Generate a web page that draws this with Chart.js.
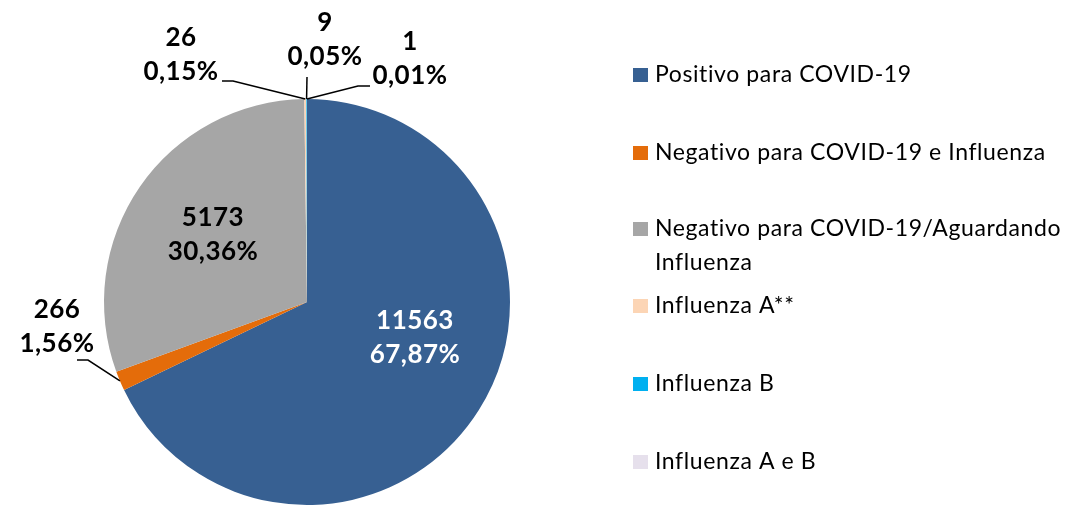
<!DOCTYPE html>
<html>
<head>
<meta charset="utf-8">
<script src="https://cdn.jsdelivr.net/npm/chart.js@4.4.0/dist/chart.umd.min.js"></script>
<style>
  body { margin: 0; background: #fff; }
  #wrap { width: 1085px; height: 527px; }
</style>
</head>
<body>
<div id="wrap"><canvas id="pieChart" width="1085" height="527"></canvas></div>
<script>
// Chart data
const categories = [
    'Positivo para COVID-19',
    'Negativo para COVID-19 e Influenza',
    ['Negativo para COVID-19/Aguardando', 'Influenza'],
    'Influenza A**',
    'Influenza B',
    'Influenza A e B'
];
const counts = [11563, 266, 5173, 26, 9, 1];
const percentLabels = ['67,87%', '1,56%', '30,36%', '0,15%', '0,05%', '0,01%'];

const sliceColors = ['#376092', '#E46C0A', '#A6A6A6', '#FCD5B5', '#00B0F0', '#E6E0EC'];
const FONT = 'Lato, "Open Sans", sans-serif';

// Label placement relative to pie centre (px): block centre, leader elbow, leader end
const labelPlacement = [
    { dx: 108, dy: 36, color: '#fff' },
    { dx: -250, dy: 25, elbow: [-219, 58], end: [-230, 58] },
    { dx: -94, dy: -67 },
    { dx: -126, dy: -247, elbow: [-74, -221], end: [-85, -221] },
    { dx: 18, dy: -262, elbow: [0, -225], end: [0, -225] },
    { dx: 103, dy: -243, elbow: [51, -216], end: [63, -216] }
];
// Legend row centres (y) for the first line of each entry
const legendRows = [75, 153, 229, 306, 384, 462];

// Plugin: value + percent labels with leader lines
const sliceLabels = {
    id: 'sliceLabels',
    afterDatasetsDraw(chart) {
        const ctx = chart.ctx;
        const arcs = chart.getDatasetMeta(0).data;
        ctx.save();
        arcs.forEach((arc, i) => {
            const p = labelPlacement[i];
            const cx = arc.x, cy = arc.y;
            if (p.elbow) {
                // leader line starts on the rim at slice mid-angle
                const mid = (arc.startAngle + arc.endAngle) / 2;
                const sx = cx + Math.cos(mid) * arc.outerRadius;
                const sy = cy + Math.sin(mid) * arc.outerRadius;
                ctx.beginPath();
                ctx.moveTo(sx, sy);
                ctx.lineTo(cx + p.elbow[0], cy + p.elbow[1]);
                ctx.lineTo(cx + p.end[0], cy + p.end[1]);
                ctx.strokeStyle = '#000';
                ctx.lineWidth = 1.5;
                ctx.stroke();
            }
            ctx.fillStyle = p.color || '#000';
            ctx.font = 'bold 26px ' + FONT;
            ctx.letterSpacing = '0.5px';
            ctx.textAlign = 'center';
            ctx.textBaseline = 'middle';
            ctx.fillText(String(counts[i]), cx + p.dx, cy + p.dy - 17);
            ctx.fillText(percentLabels[i], cx + p.dx, cy + p.dy + 17);
        });
        ctx.restore();
    }
};

// Plugin: legend drawn on the right
const sideLegend = {
    id: 'sideLegend',
    afterDraw(chart) {
        const ctx = chart.ctx;
        const colors = chart.data.datasets[0].backgroundColor;
        ctx.save();
        ctx.font = '23px ' + FONT;
        ctx.letterSpacing = '0.6px';
        ctx.textAlign = 'left';
        ctx.textBaseline = 'middle';
        chart.data.labels.forEach((label, i) => {
            const y = legendRows[i];
            ctx.fillStyle = colors[i];
            ctx.fillRect(633, y - 7, 15, 14);
            ctx.fillStyle = '#000';
            const lines = Array.isArray(label) ? label : [label];
            lines.forEach((line, j) => ctx.fillText(line, 655, y + j * 34));
        });
        ctx.restore();
    }
};

new Chart(document.getElementById('pieChart').getContext('2d'), {
    type: 'pie',
    data: {
        labels: categories,
        datasets: [{
            data: counts,
            backgroundColor: sliceColors,
            borderWidth: 0
        }]
    },
    options: {
        responsive: false,
        animation: false,
        layout: { padding: { top: 99, bottom: 22, left: 0, right: 471 } },
        plugins: {
            legend: { display: false },
            tooltip: { enabled: false }
        }
    },
    plugins: [sliceLabels, sideLegend]
});
</script>
</body>
</html>
